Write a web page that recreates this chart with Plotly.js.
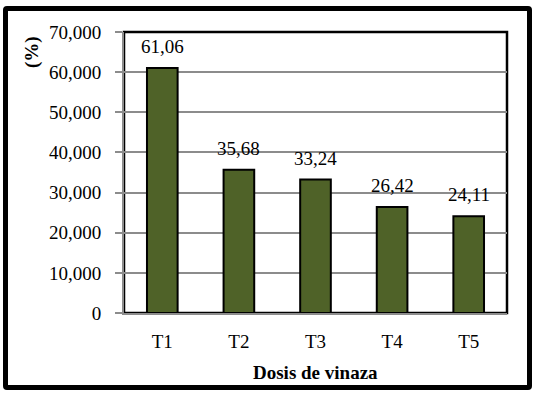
<!DOCTYPE html>
<html>
<head>
<meta charset="utf-8">
<script src="https://cdn.plot.ly/plotly-3.0.1.min.js"></script>
<style>
html,body{margin:0;padding:0;background:#fff;}
#wrap{position:relative;width:550px;height:394px;}
#chart{position:absolute;left:0;top:0;width:550px;height:394px;}
#frame{position:absolute;left:3px;top:6px;width:519px;height:374px;border:5px solid #000;border-radius:4px;pointer-events:none;}
</style>
</head>
<body>
<div id="wrap">
<div id="chart"></div>
<div id="frame"></div>
</div>
<script>
const categories = ["T1", "T2", "T3", "T4", "T5"];
const values = [61.06, 35.68, 33.24, 26.42, 24.11];
const yTickVals = [0, 10, 20, 30, 40, 50, 60, 70];
const yTickText = ["0", "10,000", "20,000", "30,000", "40,000", "50,000", "60,000", "70,000"];
const xTitle = "Dosis de vinaza";
const yTitle = "(%)";

const FONT = "Liberation Serif, Times New Roman, serif";
const labels = values.map(v => v.toFixed(2).replace('.', ','));

const trace = {
  type: 'bar',
  x: categories,
  y: values,
  marker: {color: '#4F6228', line: {color: '#000', width: 2}},
  hoverinfo: 'skip'
};

const valueLabels = categories.map((c, i) => ({
  text: labels[i], x: c, y: values[i], xref: 'x', yref: 'y',
  xanchor: 'center', yanchor: 'bottom', yshift: 9, showarrow: false,
  font: {family: FONT, size: 19, color: '#000'}
}));

const layout = {
  width: 550, height: 394,
  margin: {l: 124, r: 43, t: 32, b: 81},
  paper_bgcolor: 'rgba(0,0,0,0)',
  plot_bgcolor: '#fff',
  bargap: 0.6,
  showlegend: false,
  font: {family: FONT, size: 19, color: '#000'},
  xaxis: {
    type: 'category',
    showgrid: false,
    showline: true, linecolor: '#8c8c8c', linewidth: 2,
    ticks: '', ticklabelstandoff: 10,
    tickfont: {family: FONT, size: 19, color: '#000'},
    zeroline: false
  },
  yaxis: {
    range: [0, 70],
    tickvals: yTickVals, ticktext: yTickText,
    showgrid: true, gridcolor: '#8c8c8c', gridwidth: 2,
    showline: true, linecolor: '#8c8c8c', linewidth: 2,
    ticks: 'outside', ticklen: 7, tickcolor: '#8c8c8c', tickwidth: 2,
    ticklabelstandoff: 10,
    tickfont: {family: FONT, size: 19, color: '#000'},
    zeroline: false
  },
  shapes: [{
    type: 'rect', xref: 'paper', yref: 'paper', x0: 0, x1: 1, y0: 0, y1: 1,
    line: {color: '#000', width: 2.5}, layer: 'below'
  }],
  annotations: valueLabels.concat([
    {text: '<b>' + xTitle + '</b>', xref: 'paper', yref: 'paper', x: 0.5, y: -0.2135,
     xanchor: 'center', yanchor: 'middle', showarrow: false,
     font: {family: FONT, size: 19, color: '#000'}},
    {text: '<b>' + yTitle + '</b>', xref: 'paper', yref: 'paper', x: -0.240, y: 0.929,
     xanchor: 'center', yanchor: 'middle', showarrow: false, textangle: -90,
     font: {family: FONT, size: 19, color: '#000'}}
  ])
};

Plotly.newPlot('chart', [trace], layout, {displayModeBar: false, staticPlot: true});
</script>
</body>
</html>
